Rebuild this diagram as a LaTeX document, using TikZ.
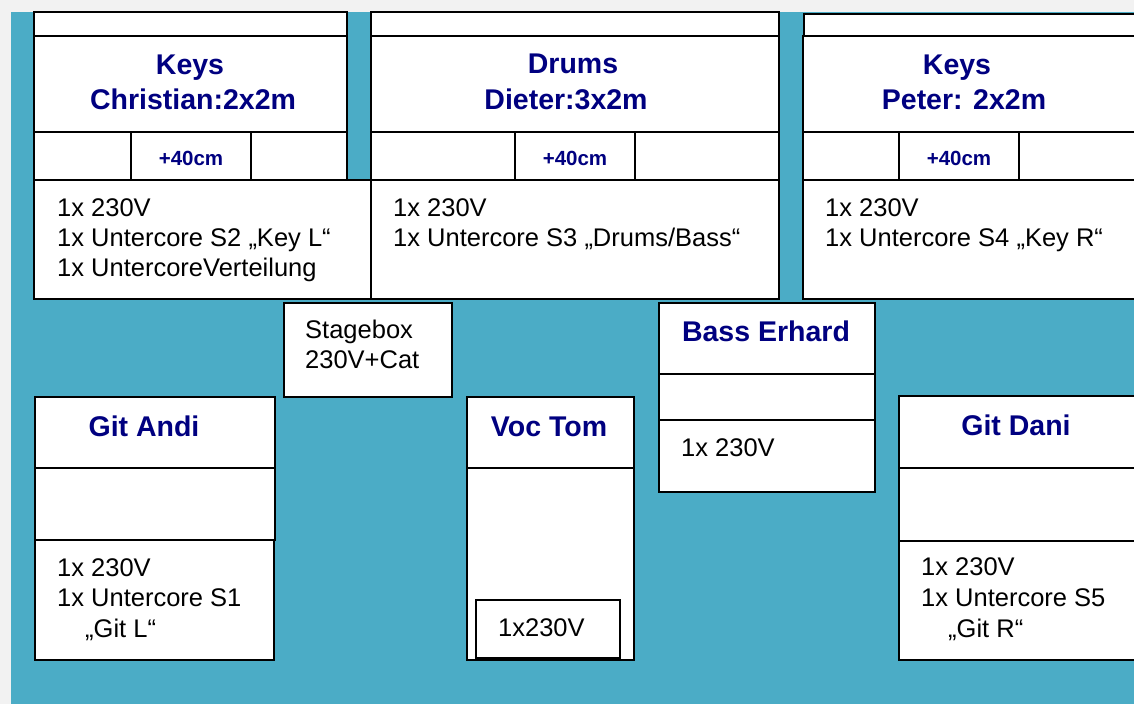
\documentclass[tikz,border=0pt]{standalone}
\usepackage{fontspec}
\setmainfont{Liberation Sans}
\definecolor{stageblue}{HTML}{4BACC6}
\definecolor{headblue}{HTML}{000080}
\definecolor{framegrey}{HTML}{F2F2F2}
\begin{document}
\begin{tikzpicture}[x=1pt,y=-1pt,line join=miter,
  box/.style={draw=black,fill=white,line width=1.3pt},
  headtxt/.style={font=\fontsize{28.5}{34}\selectfont\bfseries,text=headblue,anchor=base,inner sep=0pt},
  extra/.style={font=\fontsize{20.5}{24}\selectfont\bfseries,text=headblue,anchor=base,inner sep=0pt},
  entry/.style={font=\fontsize{25.5}{30}\selectfont,anchor=base west,inner sep=0pt}]
  \clip (0,0) rectangle (1134,704);
  \fill[framegrey] (0,0) rectangle (1134,704);
  \fill[stageblue] (11,12) rectangle (1134,704);
  % Keys Christian
  \draw[box] (34,12) rectangle (347,36);
  \draw[box] (34,36) rectangle (347,132);
  \draw[box] (34,132) rectangle (347,180);
  \draw[box] (131,132) rectangle (251,180);
  \draw[box] (34,180) rectangle (371,299);
  \node[headtxt] (kcA) at (190,74) {Keys};
  \node[headtxt] (kcB) at (193,109) {Christian:2x2m};
  \node[extra] (kcC) at (191,165) {+40cm};
  \node[entry] (kcD) at (57,216) {1x 230V};
  \node[entry] (kcE) at (57,246) {1x Untercore S2 „Key L“};
  \node[entry] (kcF) at (57,276) {1x UntercoreVerteilung};
  % Drums Dieter
  \draw[box] (371,12) rectangle (779,36);
  \draw[box] (371,36) rectangle (779,132);
  \draw[box] (371,132) rectangle (779,180);
  \draw[box] (515,132) rectangle (635,180);
  \draw[box] (371,180) rectangle (779,299);
  \node[headtxt] (drA) at (573,73) {Drums};
  \node[headtxt] (drB) at (566,109) {Dieter:3x2m};
  \node[extra] (drC) at (575,165) {+40cm};
  \node[entry] (drD) at (393,216) {1x 230V};
  \node[entry] (drE) at (393,246) {1x Untercore S3 „Drums/Bass“};
  % Keys Peter
  \draw[box] (804,14) rectangle (1140,36);
  \draw[box] (803,36) rectangle (1140,132);
  \draw[box] (803,132) rectangle (1140,180);
  \draw[box] (899,132) rectangle (1019,180);
  \draw[box] (803,180) rectangle (1140,299);
  \node[headtxt] (kpA) at (957,74) {Keys};
  \node[headtxt] (kpB) at (964,109) {Peter: 2x2m};
  \node[extra] (kpC) at (959,165) {+40cm};
  \node[entry] (kpD) at (825,216) {1x 230V};
  \node[entry] (kpE) at (825,246) {1x Untercore S4 „Key R“};
  % Stagebox
  \draw[box] (284,303) rectangle (452,397);
  \node[entry] (sbA) at (305,338) {Stagebox};
  \node[entry] (sbB) at (305,368) {230V+Cat};
  % Bass Erhard
  \draw[box] (659,303) rectangle (875,374);
  \draw[box] (659,374) rectangle (875,420);
  \draw[box] (659,420) rectangle (875,492);
  \node[headtxt] (beA) at (766,341) {Bass Erhard};
  \node[entry] (beB) at (681,456) {1x 230V};
  % Git Andi
  \draw[box] (35,397) rectangle (275,468);
  \draw[box] (35,468) rectangle (275,540);
  \draw[box] (35,540) rectangle (274,660);
  \node[headtxt] (gaA) at (144,436) {Git Andi};
  \node[entry] (gaB) at (57,576) {1x 230V};
  \node[entry] (gaC) at (57,606) {1x Untercore S1};
  \node[entry] (gaD) at (85,637) {„Git L“};
  % Voc Tom
  \draw[box] (467,397) rectangle (634,468);
  \draw[box] (467,468) rectangle (634,660);
  \draw[box] (476,600) rectangle (620,658);
  \node[headtxt] (vtA) at (549,436) {Voc Tom};
  \node[entry] (vtB) at (498,636) {1x230V};
  % Git Dani
  \draw[box] (899,396) rectangle (1140,468);
  \draw[box] (899,468) rectangle (1140,541);
  \draw[box] (899,541) rectangle (1140,660);
  \node[headtxt] (gdA) at (1016,435) {Git Dani};
  \node[entry] (gdB) at (921,575) {1x 230V};
  \node[entry] (gdC) at (921,606) {1x Untercore S5};
  \node[entry] (gdD) at (948,637) {„Git R“};
\end{tikzpicture}
\end{document}
